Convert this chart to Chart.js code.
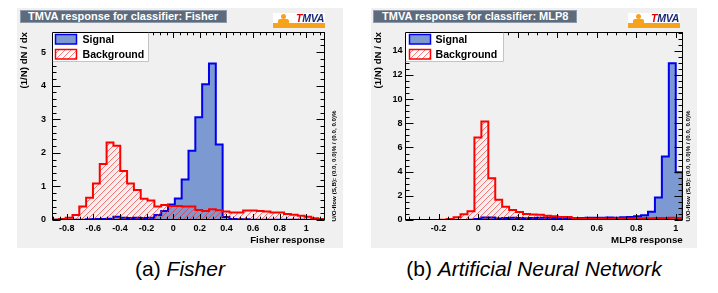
<!DOCTYPE html>
<html><head><meta charset="utf-8">
<script src="https://cdn.jsdelivr.net/npm/chart.js@4.4.1/dist/chart.umd.min.js"></script>
<style>
html,body{margin:0;padding:0;background:#fff;width:718px;height:293px;overflow:hidden;font-family:"Liberation Sans",Arial,Helvetica,sans-serif;}
.panel{position:absolute;top:8px;width:326px;height:240px;background:#f0f0f0;}
.panel canvas{position:absolute;left:0;top:0;}
.tbox{position:absolute;top:2px;height:13px;box-sizing:border-box;background:#5d6b7d;border:1px solid #8d99a8;color:#fff;font:bold 11px "Liberation Sans",Arial,sans-serif;line-height:11px;white-space:nowrap;}
.logo{position:absolute;top:5px;width:52px;height:15px;background:#fff;overflow:hidden;}
.logo .bar{position:absolute;left:0;right:0;bottom:0;height:5px;background:#f7a21b;}
.logo .head{position:absolute;left:8px;top:1px;width:5px;height:5px;border-radius:50%;background:#f7a21b;}
.logo .body{position:absolute;left:5px;top:6px;width:11px;height:4px;border-radius:2px 2px 0 0;background:#f7a21b;}
.logo .txt{position:absolute;left:23px;top:0px;font:italic bold 10.5px "Liberation Sans",Arial,sans-serif;line-height:11px;color:#1b2a78;letter-spacing:-0.2px;}
.logo .txt b{color:#e00000;}
.cap{position:absolute;top:257px;font:21px "Liberation Sans",Arial,sans-serif;line-height:24px;color:#000;white-space:nowrap;transform:translateX(-50%);}
</style></head>
<body>
<div class="panel" style="left:17px"><canvas id="c1" width="326" height="240"></canvas>
  <div class="tbox" style="left:3px;width:207px;padding-left:7px">TMVA response for classifier: Fisher</div>
  <div class="logo" style="left:256px"><div class="bar"></div><div class="head"></div><div class="body"></div><div class="txt"><b>T</b>MVA</div></div>
</div>
<div class="panel" style="left:371px"><canvas id="c2" width="326" height="240"></canvas>
  <div class="tbox" style="left:2px;width:204px;padding-left:8px">TMVA response for classifier: MLP8</div>
  <div class="logo" style="left:257px"><div class="bar"></div><div class="head"></div><div class="body"></div><div class="txt"><b>T</b>MVA</div></div>
</div>
<div class="cap" style="left:180px">(a) <i>Fisher</i></div>
<div class="cap" style="left:534px">(b) <i>Artificial Neural Network</i></div>
<script>
// ---------------- data ----------------
const fisherRange = [-0.91, 1.14];           // histogram x range (40 bins)
const fisherSignal = [0.005,0.005,0.005,0.01,0.01,0.02,0.03,0.03,0.04,0.10,0.07,0.06,0.07,0.06,0.07,0.15,0.27,0.46,0.64,1.21,2.06,3.06,4.04,4.66,2.25,0.09,0.03,0.02,0.02,0.01,0.01,0.01,0.01,0.01,0.01,0.01,0.01,0.01,0.01,0.01];
const fisherBackground = [0.01,0.03,0.07,0.15,0.40,0.66,1.09,1.67,2.31,2.21,1.46,1.09,0.89,0.63,0.58,0.40,0.45,0.42,0.42,0.40,0.40,0.30,0.27,0.32,0.29,0.25,0.22,0.22,0.28,0.28,0.27,0.25,0.22,0.22,0.18,0.16,0.13,0.10,0.05,0.03];
const mlpRange = [-0.37, 1.035];
const mlpSignal = [0,0,0,0,0,0,0,0,0,0.02,0.08,0.20,0.20,0.12,0.16,0.18,0.17,0.14,0.17,0.18,0.18,0.17,0.16,0.16,0.15,0.17,0.19,0.18,0.18,0.20,0.19,0.22,0.24,0.30,0.40,0.68,1.87,5.25,12.96,3.95];
const mlpBackground = [0,0,0,0,0,0.03,0.08,0.22,0.47,0.72,6.82,8.15,3.45,1.68,1.10,0.82,0.66,0.50,0.45,0.44,0.36,0.32,0.25,0.24,0.13,0.12,0.11,0.11,0.12,0.11,0.12,0.12,0.13,0.14,0.14,0.15,0.16,0.17,0.18,0.17];
const fisherXTicks = [-0.8,-0.6,-0.4,-0.2,0,0.2,0.4,0.6,0.8,1];
const fisherYTicks = [0,1,2,3,4,5];
const mlpXTicks = [-0.2,0,0.2,0.4,0.6,0.8,1];
const mlpYTicks = [0,2,4,6,8,10,12,14];
const seriesLabels = ['Signal','Background'];
const yTitle = '(1/N) dN / dx';
const fisherXTitle = 'Fisher response';
const mlpXTitle = 'MLP8 response';
const uoText = 'U/O-flow (S,B): (0.0, 0.0)% / (0.0, 0.0)%';

// ---------------- helpers ----------------
const FONT = '"Liberation Sans", Arial, Helvetica, sans-serif';
function histPoints(vals, range) {
  const lo = range[0], hi = range[1], w = (hi - lo) / vals.length;
  const pts = [{x: lo, y: 0}];
  vals.forEach((v, i) => pts.push({x: lo + i * w, y: v}));
  pts.push({x: hi, y: vals[vals.length - 1]});
  pts.push({x: hi, y: 0});
  return pts;
}
function makeHatch() {
  const c = document.createElement('canvas'); c.width = 6; c.height = 6;
  const g = c.getContext('2d');
  g.strokeStyle = 'rgba(255,40,40,0.7)'; g.lineWidth = 0.9;
  g.beginPath();
  g.moveTo(-1, 7); g.lineTo(7, -1);
  g.moveTo(-1, 1); g.lineTo(1, -1);
  g.moveTo(5, 7); g.lineTo(7, 5);
  g.stroke();
  return g.createPattern(c, 'repeat');
}
const hatch = makeHatch();
const fmt = v => { const r = Math.round(v * 10) / 10; return String(Object.is(r, -0) ? 0 : r); };

const rootFrame = {
  id: 'rootFrame',
  afterDraw(chart, args, o) {
    const {ctx, chartArea: a} = chart;
    const xs = chart.scales.x, ys = chart.scales.y;
    ctx.save();
    ctx.strokeStyle = '#000'; ctx.lineWidth = 1;
    const L = Math.round(a.left) + 0.5, R = Math.round(a.right) - 0.5, T = Math.round(a.top) + 0.5, B = Math.round(a.bottom) - 0.5;
    ctx.beginPath();
    const xStep = o.xMinor;
    for (let v = Math.ceil(xs.min / xStep - 1e-6) * xStep; v <= xs.max + 1e-9; v += xStep) {
      const isMaj = Math.abs(v / o.xMajor - Math.round(v / o.xMajor)) < 1e-6;
      const len = isMaj ? o.xMajLen : o.xMinLen;
      const px = Math.round(xs.getPixelForValue(v)) + 0.5;
      ctx.moveTo(px, B); ctx.lineTo(px, B - len);
      ctx.moveTo(px, T); ctx.lineTo(px, T + len);
    }
    const yStep = o.yMinor;
    for (let v = 0; v <= ys.max + 1e-9; v += yStep) {
      const isMaj = Math.abs(v / o.yMajor - Math.round(v / o.yMajor)) < 1e-6;
      const len = isMaj ? o.yMajLen : o.yMinLen;
      const py = Math.round(ys.getPixelForValue(v)) + 0.5;
      ctx.moveTo(L, py); ctx.lineTo(L + len, py);
      ctx.moveTo(R, py); ctx.lineTo(R - len, py);
    }
    ctx.stroke();
    ctx.strokeRect(L, T, R - L, B - T);
    // legend
    const lw = o.legendW, lh = 29;
    ctx.fillStyle = '#fff';
    ctx.fillRect(L - 0.5, T - 0.5, lw, lh);
    ctx.strokeStyle = '#c4c4c4';
    ctx.beginPath();
    ctx.moveTo(L + lw, T); ctx.lineTo(L + lw, T + lh);
    ctx.lineTo(L, T + lh);
    ctx.stroke();
    ctx.strokeStyle = '#000';
    ctx.beginPath(); ctx.moveTo(L, T + lh); ctx.lineTo(L, T); ctx.lineTo(L + lw, T); ctx.stroke();
    const order = [1, 0];
    order.forEach((di, i) => {
      const ds = chart.data.datasets[di];
      const bx = L + o.legBoxX, by = T + 2 + i * 15, bw = 21, bh = 9.5;
      ctx.fillStyle = ds.backgroundColor;
      ctx.fillRect(bx, by, bw, bh);
      ctx.strokeStyle = ds.borderColor; ctx.lineWidth = 1.5;
      ctx.strokeRect(bx, by, bw, bh);
      ctx.fillStyle = '#000';
      ctx.font = 'bold 10.6px ' + FONT;
      ctx.textBaseline = 'middle'; ctx.textAlign = 'left';
      ctx.fillText(ds.label, L + o.legTextX, by + bh / 2 + 0.5);
    });
    // U/O-flow text
    ctx.translate(o.uoX, B + 2);
    ctx.rotate(-Math.PI / 2);
    ctx.fillStyle = '#000';
    ctx.font = 'bold 6.2px ' + FONT;
    ctx.textBaseline = 'middle'; ctx.textAlign = 'left';
    ctx.fillText(uoText, 0, 0);
    ctx.restore();
  }
};

function makeChart(id, c) {
  const tickFont = {family: FONT, size: 9, weight: 'bold'};
  const titleFont = {family: FONT, size: 9.7, weight: 'bold'};
  return new Chart(document.getElementById(id), {
    type: 'line',
    data: {datasets: [
      {label: seriesLabels[1], data: histPoints(c.bkg, c.range), stepped: 'before', borderColor: '#ff0000', borderWidth: 2,
       backgroundColor: hatch, fill: 'origin', pointRadius: 0, order: 0, borderJoinStyle: 'miter'},
      {label: seriesLabels[0], data: histPoints(c.sig, c.range), stepped: 'before', borderColor: '#0000ee', borderWidth: 2,
       backgroundColor: '#7d99d1', fill: 'origin', pointRadius: 0, order: 1, borderJoinStyle: 'miter'}
    ]},
    options: {
      animation: false, responsive: false, devicePixelRatio: 1, events: [],
      layout: {padding: {left: 0, top: 24, right: c.padRight, bottom: 0}},
      plugins: {legend: {display: false}, tooltip: {enabled: false}, title: {display: false},
        rootFrame: {xMajor: 0.2, xMinor: 0.05, yMajor: c.yMajor, yMinor: c.yMinor, xMajLen: 5.5, xMinLen: 2.8, yMajLen: 8, yMinLen: 4,
                    legendW: c.legendW, legBoxX: c.legBoxX, legTextX: c.legTextX, uoX: 317.3}},
      scales: {
        x: {type: 'linear', min: c.range[0], max: c.range[1],
            afterFit: s => { s.height = 28; },
            afterBuildTicks: s => { s.ticks = c.xTicks.map(v => ({value: v})); },
            grid: {display: false, drawTicks: false}, border: {display: false},
            ticks: {font: tickFont, color: '#000', padding: 3, maxRotation: 0, autoSkip: false, callback: v => fmt(v)},
            title: {display: true, text: c.xTitle, align: 'end', color: '#000', font: titleFont, padding: {top: 0, bottom: 1.7}}},
        y: {type: 'linear', min: 0, max: c.yMax,
            afterFit: s => { s.width = c.yWidth; },
            afterBuildTicks: s => { s.ticks = c.yTicks.map(v => ({value: v})); },
            grid: {display: false, drawTicks: false}, border: {display: false},
            ticks: {font: tickFont, color: '#000', padding: c.yPad, autoSkip: false, callback: v => fmt(v)},
            title: {display: true, text: yTitle, align: 'end', color: '#000', font: titleFont, padding: {top: 1.2, bottom: 0}}}
      }
    },
    plugins: [rootFrame]
  });
}

makeChart('c1', {range: fisherRange, sig: fisherSignal, bkg: fisherBackground, xTicks: fisherXTicks, yTicks: fisherYTicks,
  yMax: 5.6, yMajor: 1, yMinor: 0.2, padRight: 18, yWidth: 35, yPad: 6, xTitle: fisherXTitle,
  legendW: 96, legBoxX: 3, legTextX: 30});
makeChart('c2', {range: mlpRange, sig: mlpSignal, bkg: mlpBackground, xTicks: mlpXTicks, yTicks: mlpYTicks,
  yMax: 15.55, yMajor: 2, yMinor: 0.5, padRight: 14.3, yWidth: 34, yPad: 2.5, xTitle: mlpXTitle,
  legendW: 98, legBoxX: 4, legTextX: 30});
</script>
</body></html>
